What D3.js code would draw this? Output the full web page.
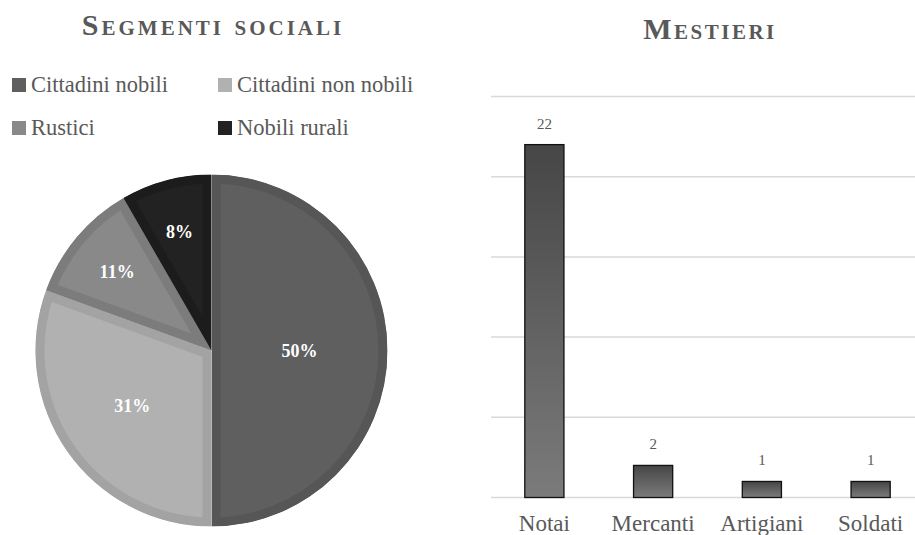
<!DOCTYPE html>
<html>
<head>
<meta charset="utf-8">
<script src="https://cdn.jsdelivr.net/npm/d3@7"></script>
<style>
  body { margin: 0; background: #fff; }
</style>
</head>
<body>
<div id="chart"></div>
<script>
// Segmenti sociali (pie)
const segments = ["Cittadini nobili", "Cittadini non nobili", "Rustici", "Nobili rurali"];
const segmentCounts = [18, 11, 4, 3];
const segmentFill = ["#5f5f5f", "#b1b1b1", "#898989", "#222222"];
const segmentEdge = ["#565656", "#a3a3a3", "#7c7c7c", "#1c1c1c"];

// Mestieri (bars)
const trades = ["Notai", "Mercanti", "Artigiani", "Soldati"];
const tradeCounts = [22, 2, 1, 1];
const gridTicks = [0, 5, 10, 15, 20, 25];

const W = 915, H = 535;
const textCol = "#595959";
const serif = "'Liberation Serif', 'Times New Roman', serif";

const svg = d3.select("#chart").append("svg")
    .attr("width", W)
    .attr("height", H)
    .attr("font-family", serif);

const defs = svg.append("defs");
const grad = defs.append("linearGradient")
    .attr("id", "barGrad")
    .attr("x1", 0).attr("y1", 0).attr("x2", 0).attr("y2", 1);
grad.append("stop").attr("offset", "0%").attr("stop-color", "#464646");
grad.append("stop").attr("offset", "100%").attr("stop-color", "#7b7b7b");

// ---------- pie ----------
const pieG = svg.append("g");

pieG.append("text")
    .attr("x", 213)
    .attr("y", 35)
    .attr("text-anchor", "middle")
    .style("font-size", "30px")
    .style("font-weight", "bold")
    .style("font-variant", "small-caps")
    .style("letter-spacing", "3px")
    .style("fill", textCol)
    .text("Segmenti sociali");

// legend, two columns
const legendX = [12, 218], legendY = [78, 121];
const legend = pieG.selectAll("g.leg")
    .data(segments)
    .enter().append("g")
    .attr("class", "leg")
    .attr("transform", (d, i) => "translate(" + legendX[i % 2] + "," + legendY[Math.floor(i / 2)] + ")");

legend.append("rect")
    .attr("width", 14)
    .attr("height", 14)
    .style("fill", (d, i) => segmentFill[i]);

legend.append("text")
    .attr("x", 19)
    .attr("y", 14)
    .style("font-size", "22.5px")
    .style("fill", textCol)
    .text(d => d);

const cx = 211.5, cy = 350.5, R = 176;
const total = d3.sum(segmentCounts);

const pie = d3.pie().sort(null).value(d => d);
const arcs = pie(segmentCounts);
const arc = d3.arc().innerRadius(0).outerRadius(R);

const slices = pieG.append("g")
    .attr("transform", "translate(" + cx + "," + cy + ")");

arcs.forEach((a, i) => {
    defs.append("clipPath")
        .attr("id", "clip" + i)
        .append("path")
        .attr("d", arc(a));
});

slices.selectAll("path")
    .data(arcs)
    .enter().append("path")
    .attr("d", arc)
    .attr("clip-path", (d, i) => "url(#clip" + i + ")")
    .style("fill", (d, i) => segmentFill[i])
    .style("stroke", (d, i) => segmentEdge[i])
    .style("stroke-width", 18)
    .style("stroke-linejoin", "miter");

// labels: big slices closer to centre, small ones further out
const labelArc = d => {
    const share = (d.endAngle - d.startAngle) / (2 * Math.PI);
    const r = share > 0.4 ? R * 0.5 : share > 0.2 ? R * 0.55 : R * 0.7;
    return d3.arc().innerRadius(r).outerRadius(r).centroid(d);
};

slices.selectAll("text")
    .data(arcs)
    .enter().append("text")
    .attr("transform", d => "translate(" + labelArc(d) + ")")
    .attr("text-anchor", "middle")
    .attr("dy", "0.35em")
    .style("font-size", "18px")
    .style("font-weight", "bold")
    .style("fill", "#fff")
    .text(d => Math.round(d.data / total * 100) + "%");

// ---------- bars ----------
const barG = svg.append("g");

barG.append("text")
    .attr("x", 710)
    .attr("y", 39)
    .attr("text-anchor", "middle")
    .style("font-size", "30px")
    .style("font-weight", "bold")
    .style("font-variant", "small-caps")
    .style("letter-spacing", "2.5px")
    .style("fill", textCol)
    .text("Mestieri");

const x = d3.scaleBand()
    .domain(trades)
    .range([490, 925])
    .paddingInner(0.64)
    .paddingOuter(0.32);

const y = d3.scaleLinear()
    .domain([0, 25])
    .range([497.5, 96.5]);

barG.append("g")
    .selectAll("line")
    .data(gridTicks)
    .enter().append("line")
    .attr("x1", 491)
    .attr("x2", 925)
    .attr("y1", d => y(d))
    .attr("y2", d => y(d))
    .style("stroke", "#d9d9d9")
    .style("stroke-width", 1.5);

barG.selectAll("rect.bar")
    .data(tradeCounts)
    .enter().append("rect")
    .attr("class", "bar")
    .attr("x", (d, i) => x(trades[i]))
    .attr("y", d => y(d))
    .attr("width", x.bandwidth())
    .attr("height", d => y(0) - y(d))
    .style("fill", "url(#barGrad)")
    .style("stroke", "#111")
    .style("stroke-width", 1.3);

barG.selectAll("text.val")
    .data(tradeCounts)
    .enter().append("text")
    .attr("class", "val")
    .attr("x", (d, i) => x(trades[i]) + x.bandwidth() / 2)
    .attr("y", d => y(d) - 16)
    .attr("text-anchor", "middle")
    .style("font-size", "15px")
    .style("fill", textCol)
    .text(d => d);

barG.selectAll("text.cat")
    .data(trades)
    .enter().append("text")
    .attr("class", "cat")
    .attr("x", d => x(d) + x.bandwidth() / 2)
    .attr("y", 531)
    .attr("text-anchor", "middle")
    .style("font-size", "23px")
    .style("fill", textCol)
    .text(d => d);
</script>
</body>
</html>
